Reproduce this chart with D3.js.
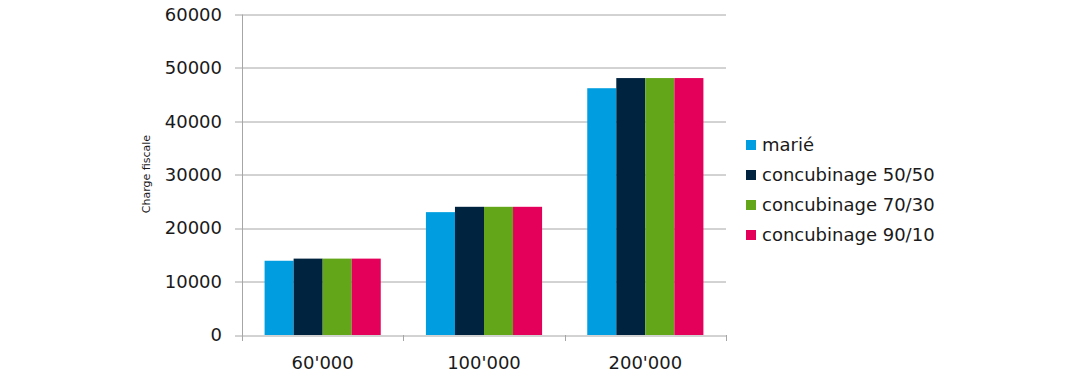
<!DOCTYPE html>
<html>
<head>
<meta charset="utf-8">
<script src="https://cdn.jsdelivr.net/npm/d3@7"></script>
<style>
  body { margin: 0; background: #fff; }
  text { font-family: "DejaVu Sans", "Noto Sans", sans-serif; fill: #1a1a1a; }
</style>
</head>
<body>
<div id="chart"></div>
<script>
// Data
const categories = ["60'000", "100'000", "200'000"];
const seriesNames = ["marié", "concubinage 50/50", "concubinage 70/30", "concubinage 90/10"];
const marie = [13900, 23000, 46200];
const concub5050 = [14300, 24000, 48100];
const concub7030 = [14300, 24000, 48100];
const concub9010 = [14300, 24000, 48100];
const yTicks = [0, 10000, 20000, 30000, 40000, 50000, 60000];
const colors = ["#009ee0", "#00233f", "#63a61a", "#e4005a"];

const values = [marie, concub5050, concub7030, concub9010];

const W = 1080, H = 388;
const margin = { top: 14.5, right: 354, bottom: 53, left: 242 };
const width = W - margin.left - margin.right,
    height = H - margin.top - margin.bottom;

const root = d3.select("#chart").append("svg")
    .attr("width", W)
    .attr("height", H);

const svg = root.append("g")
    .attr("transform", "translate(" + margin.left + "," + margin.top + ")");

// scales
const x0 = d3.scaleBand()
    .domain(categories)
    .range([0, width])
    .paddingInner(0.28)
    .paddingOuter(0.14);

const x1 = d3.scaleBand()
    .domain(d3.range(seriesNames.length))
    .range([0, x0.bandwidth()]);

const y = d3.scaleLinear()
    .domain([0, 60000])
    .range([height, 0]);

// gridlines
svg.append("g")
    .selectAll("line")
    .data(yTicks)
    .enter().append("line")
    .attr("x1", -7)
    .attr("x2", width)
    .attr("y1", d => Math.round(y(d)) + 0.5)
    .attr("y2", d => Math.round(y(d)) + 0.5)
    .attr("stroke", "#a6a6a6")
    .attr("stroke-width", 1);

// y axis line
svg.append("line")
    .attr("x1", 0.5).attr("x2", 0.5)
    .attr("y1", 0).attr("y2", height + 6)
    .attr("stroke", "#a6a6a6");

// y labels
svg.append("g")
    .selectAll("text")
    .data(yTicks)
    .enter().append("text")
    .attr("x", -20)
    .attr("y", d => y(d))
    .attr("dy", "0.35em")
    .attr("text-anchor", "end")
    .style("font-size", "18px")
    .text(d => d);

// x axis with boundary ticks
const bounds = d3.range(categories.length + 1).map(i => i * width / categories.length);
svg.append("g")
    .selectAll("line")
    .data(bounds)
    .enter().append("line")
    .attr("x1", d => Math.round(d) + 0.5)
    .attr("x2", d => Math.round(d) + 0.5)
    .attr("y1", height)
    .attr("y2", height + 6)
    .attr("stroke", "#a6a6a6");

svg.append("g")
    .selectAll("text")
    .data(categories)
    .enter().append("text")
    .attr("x", d => x0(d) + x0.bandwidth() / 2)
    .attr("y", height + 28)
    .attr("dy", "0.35em")
    .attr("text-anchor", "middle")
    .style("font-size", "18px")
    .text(d => d);

// bars
const groups = svg.selectAll(".grp")
    .data(categories)
    .enter().append("g")
    .attr("class", "grp")
    .attr("transform", d => "translate(" + x0(d) + ",0)");

groups.selectAll("rect")
    .data((d, i) => values.map((s, k) => ({ k: k, v: s[i] })))
    .enter().append("rect")
    .attr("x", d => x1(d.k))
    .attr("width", x1.bandwidth())
    .attr("y", d => y(d.v))
    .attr("height", d => height - y(d.v))
    .attr("fill", d => colors[d.k]);

// y axis title
root.append("text")
    .attr("transform", "translate(146,174) rotate(-90)")
    .attr("text-anchor", "middle")
    .attr("dy", "0.35em")
    .style("font-size", "11px")
    .text("Charge fiscale");

// legend
const legend = root.append("g")
    .attr("transform", "translate(746,145)");

const item = legend.selectAll("g")
    .data(seriesNames)
    .enter().append("g")
    .attr("transform", (d, i) => "translate(0," + i * 30 + ")");

item.append("rect")
    .attr("x", 0)
    .attr("y", -5)
    .attr("width", 10)
    .attr("height", 10)
    .attr("fill", (d, i) => colors[i]);

item.append("text")
    .attr("x", 16)
    .attr("y", 0)
    .attr("dy", "0.35em")
    .style("font-size", "18px")
    .text(d => d);
</script>
</body>
</html>
